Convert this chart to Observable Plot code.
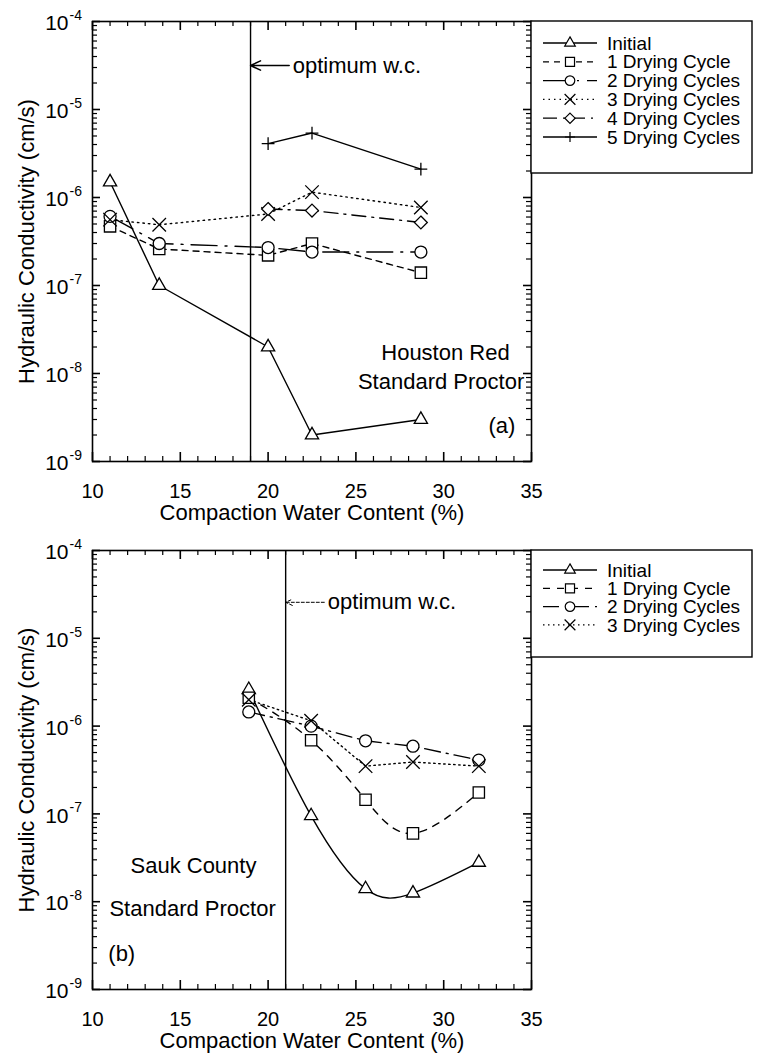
<!DOCTYPE html>
<html><head><meta charset="utf-8">
<script src="https://cdn.jsdelivr.net/npm/d3@7"></script>
<script src="https://cdn.jsdelivr.net/npm/@observablehq/plot@0.6"></script>
<style>
body{margin:0;background:#fff;}
#chart{width:757px;}
#chart svg{display:block;}
</style></head><body><div id="chart"></div>
<script>
// ---------- data ----------
const seriesA = ["Initial","1 Drying Cycle","2 Drying Cycles","3 Drying Cycles","4 Drying Cycles","5 Drying Cycles"];
const seriesB = ["Initial","1 Drying Cycle","2 Drying Cycles","3 Drying Cycles"];

// Panel (a) Houston Red, Standard Proctor
const wcA = [11.0, 13.8, 20.0, 22.5, 28.7];
const kA_initial = [1.5e-6, 1.0e-7, 2.0e-8, 2.0e-9, 3.0e-9];
const kA_dry1    = [4.7e-7, 2.6e-7, 2.2e-7, 3.0e-7, 1.4e-7];
const kA_dry2    = [6.1e-7, 3.0e-7, 2.7e-7, 2.4e-7, 2.4e-7];
const kA_dry3    = [5.6e-7, 4.9e-7, 6.5e-7, 1.15e-6, 7.7e-7];
const kA_dry4    = [null, null, 7.4e-7, 7.1e-7, 5.2e-7];
const kA_dry5    = [null, null, 4.1e-6, 5.4e-6, 2.1e-6];

// Panel (b) Sauk County, Standard Proctor
const wcB = [18.9, 22.45, 25.55, 28.25, 32.0];
const kB_initial = [2.6e-6, 9.5e-8, 1.4e-8, 1.25e-8, 2.8e-8];
const kB_dry1    = [2.1e-6, 6.9e-7, 1.45e-7, 6.0e-8, 1.75e-7];
const kB_dry2    = [1.45e-6, 1.0e-6, 6.8e-7, 5.9e-7, 4.1e-7];
const kB_dry3    = [2.0e-6, 1.15e-6, 3.5e-7, 3.9e-7, 3.5e-7];

const optimumA = 19.0;
const optimumB = 21.0;

const xMajorTicks = [10, 15, 20, 25, 30, 35];
const xMinorTicks = d3.range(10, 36).filter(v => v % 5 !== 0);
const yMajorTicks = [1e-9, 1e-8, 1e-7, 1e-6, 1e-5, 1e-4];
const yMinorTicks = d3.range(-9, -4).flatMap(e => d3.range(2, 10).map(m => m * Math.pow(10, e)));

const xTitle = "Compaction Water Content (%)";
const yTitle = "Hydraulic Conductivity (cm/s)";
const optimumLabel = "optimum w.c.";

// annotations (data-space anchors)
const notesA = [
  {text: "Houston Red", wc: 30.1, k: 1.41e-8},
  {text: "Standard Proctor", wc: 29.85, k: 6.6e-9}
];
const tagA = [{text: "(a)", wc: 32.55, k: 2.1e-9}];
const notesB = [
  {text: "Sauk County", wc: 15.75, k: 2.14e-8},
  {text: "Standard Proctor", wc: 15.7, k: 6.8e-9}
];
const tagB = [{text: "(b)", wc: 10.9, k: 2.1e-9}];
const arrowA = {from: 21.2, textAt: 21.4, k: 3.16e-5};
const arrowB = {from: 23.2, textAt: 23.4, k: 2.57e-5};

// ---------- styles ----------
const FONT = "'Liberation Sans', Arial, Helvetica, sans-serif";
const styleA = {
  "Initial":         {symbol: "triangle2", r: 6.3, fill: "white", dash: null},
  "1 Drying Cycle":  {symbol: "square2",   r: 7.2, fill: "white", dash: "6,5"},
  "2 Drying Cycles": {symbol: "circle",    r: 6.0, fill: "white", dash: "26,8,2,8"},
  "3 Drying Cycles": {symbol: "times",     r: 6.2, fill: "none",  dash: "1.5,4"},
  "4 Drying Cycles": {symbol: "diamond2",  r: 5.8, fill: "white", dash: "14,6,2,6"},
  "5 Drying Cycles": {symbol: "plus",      r: 4.2, fill: "none",  dash: null}
};
const styleB = {
  "Initial":         {symbol: "triangle2", r: 6.3, fill: "white", dash: null, curve: "natural"},
  "1 Drying Cycle":  {symbol: "square2",   r: 7.2, fill: "white", dash: "7,7", curve: "natural"},
  "2 Drying Cycles": {symbol: "circle",    r: 6.0, fill: "white", dash: "16,6,2,6"},
  "3 Drying Cycles": {symbol: "times",     r: 6.2, fill: "none",  dash: "1.5,3.5"}
};

function tidy(wc, names, values) {
  const out = [];
  names.forEach((n, i) => wc.forEach((x, j) => {
    const v = values[i][j];
    if (v != null) out.push({series: n, wc: x, k: v});
  }));
  return out;
}

const W = 757, ML = 92, MR = 226;
const innerW = W - ML - MR;

function panel({height, mt, mb, data, names, style, optimum, arrow, arrowDash, notes, tag}) {
  const innerH = height - mt - mb;
  const marks = [
    Plot.frame({stroke: "black", strokeWidth: 1.6}),
    // ticks (inward)
    Plot.tickY(yMinorTicks, {y: d => d, insetRight: innerW - 5, strokeWidth: 1.2}),
    Plot.tickY(yMinorTicks, {y: d => d, insetLeft: innerW - 5, strokeWidth: 1.2}),
    Plot.tickY(yMajorTicks, {y: d => d, insetRight: innerW - 8, strokeWidth: 1.6}),
    Plot.tickY(yMajorTicks, {y: d => d, insetLeft: innerW - 8, strokeWidth: 1.6}),
    Plot.tickX(xMinorTicks, {x: d => d, insetTop: innerH - 5, strokeWidth: 1.2}),
    Plot.tickX(xMinorTicks, {x: d => d, insetBottom: innerH - 5, strokeWidth: 1.2}),
    Plot.tickX(xMajorTicks, {x: d => d, insetTop: innerH - 9, strokeWidth: 1.6}),
    Plot.tickX(xMajorTicks, {x: d => d, insetBottom: innerH - 9, strokeWidth: 1.6}),
    // x tick labels
    Plot.axisX(xMajorTicks, {anchor: "bottom", tickSize: 0, tickPadding: 22, fontSize: 20, label: null}),
    // y tick labels 10^n
    Plot.text(yMajorTicks, {y: d => d, frameAnchor: "left", text: () => "10", textAnchor: "end", dx: -24, dy: 2, fontSize: 21, lineAnchor: "middle"}),
    Plot.text(yMajorTicks, {y: d => d, frameAnchor: "left", text: d => String(Math.round(Math.log10(d))), textAnchor: "start", dx: -23, dy: -6, fontSize: 14, lineAnchor: "middle"}),
    // titles
    Plot.text([xTitle], {frameAnchor: "bottom", text: d => d, dy: 58, lineAnchor: "bottom", textAnchor: "middle", fontSize: 22}),
    Plot.text([yTitle], {frameAnchor: "left", text: d => d, rotate: -90, dx: -66, lineAnchor: "middle", textAnchor: "middle", fontSize: 22}),
    // optimum
    Plot.ruleX([optimum], {stroke: "black", strokeWidth: 1.4}),
    Plot.arrow([arrow], {x1: "from", y1: "k", x2: () => optimum, y2: "k", stroke: "black", strokeWidth: arrowDash ? 1 : 1.5, strokeDasharray: arrowDash, headLength: 11, headAngle: 50}),
    Plot.text([arrow], {x: "textAt", y: "k", text: () => optimumLabel, textAnchor: "start", lineAnchor: "middle", fontSize: 22}),
    // notes
    Plot.text(notes, {x: "wc", y: "k", text: "text", textAnchor: "middle", lineAnchor: "bottom", fontSize: 22}),
    Plot.text(tag, {x: "wc", y: "k", text: "text", textAnchor: "start", lineAnchor: "bottom", fontSize: 22})
  ];
  for (const n of names) {
    const st = style[n];
    marks.push(Plot.line(data.filter(d => d.series === n), {x: "wc", y: "k", stroke: "black", strokeWidth: 1.4, strokeDasharray: st.dash, curve: st.curve || "linear"}));
  }
  for (const n of names) {
    const st = style[n];
    marks.push(Plot.dot(data.filter(d => d.series === n), {x: "wc", y: "k", symbol: st.symbol, r: st.r, fill: st.fill, stroke: "black", strokeWidth: 1.3}));
  }
  return Plot.plot({
    width: W, height,
    marginLeft: ML, marginRight: MR, marginTop: mt, marginBottom: mb,
    x: {domain: [10, 35]},
    y: {type: "log", domain: [1e-9, 1e-4], axis: null},
    style: {fontFamily: FONT, fontSize: "20px", color: "black", background: "white", overflow: "visible"},
    marks
  });
}

const symMap = {triangle2: d3.symbolTriangle2, square2: d3.symbolSquare2, circle: d3.symbolCircle, times: d3.symbolTimes, diamond2: d3.symbolDiamond2, plus: d3.symbolPlus};

function addLegend(svg, names, style, top, bottom, firstY, step) {
  const g = d3.select(svg).append("g").attr("font-family", FONT).attr("text-anchor", "start");
  g.append("rect").attr("x", ML + innerW).attr("y", top).attr("width", 752 - ML - innerW).attr("height", bottom - top)
    .attr("fill", "white").attr("stroke", "black").attr("stroke-width", 1.4);
  names.forEach((n, i) => {
    const st = style[n];
    const y = firstY + i * step;
    g.append("line").attr("x1", 543).attr("x2", 597).attr("y1", y).attr("y2", y)
      .attr("stroke", "black").attr("stroke-width", 1.3).attr("stroke-dasharray", st.dash);
    g.append("path").attr("transform", `translate(570,${y})`)
      .attr("d", d3.symbol(symMap[st.symbol], Math.PI * (st.r * 0.8) ** 2)())
      .attr("fill", st.fill).attr("stroke", "black").attr("stroke-width", 1.2);
    g.append("text").attr("x", 607).attr("y", y).attr("dy", "0.35em").attr("font-size", 19)
      .attr("text-anchor", "start").attr("fill", "black").text(n);
  });
}

const dataA = tidy(wcA, seriesA, [kA_initial, kA_dry1, kA_dry2, kA_dry3, kA_dry4, kA_dry5]);
const dataB = tidy(wcB, seriesB, [kB_initial, kB_dry1, kB_dry2, kB_dry3]);

const svgA = panel({height: 528, mt: 21, mb: 67, data: dataA, names: seriesA, style: styleA, optimum: optimumA, arrow: arrowA, arrowDash: null, notes: notesA, tag: tagA});
addLegend(svgA, seriesA, styleA, 21, 173, 43, 18.8);
const svgB = panel({height: 527, mt: 22, mb: 66, data: dataB, names: seriesB, style: styleB, optimum: optimumB, arrow: arrowB, arrowDash: "3,2", notes: notesB, tag: tagB});
addLegend(svgB, seriesB, styleB, 22, 129, 42, 18.3);

document.getElementById("chart").append(svgA, svgB);
</script>
</body></html>
